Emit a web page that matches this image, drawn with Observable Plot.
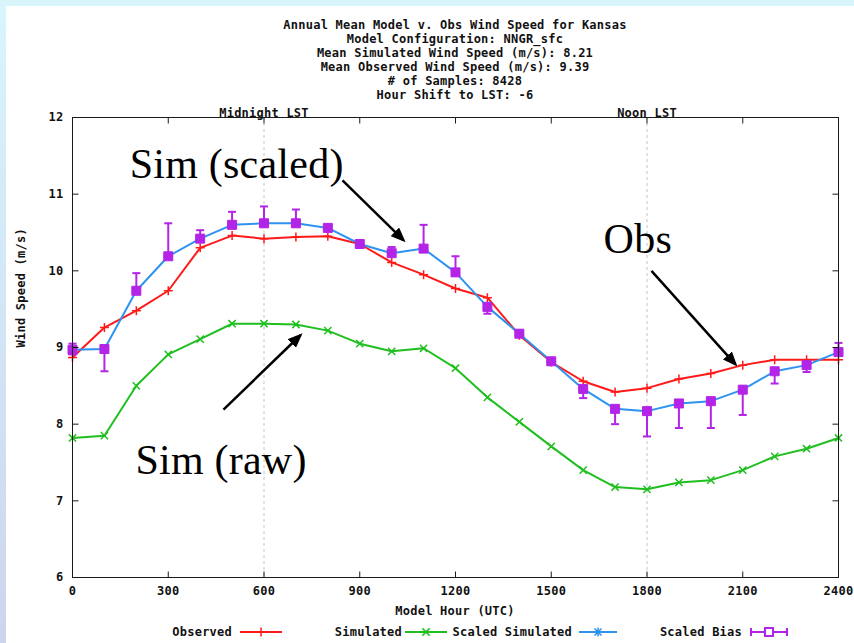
<!DOCTYPE html>
<html>
<head>
<meta charset="utf-8">
<script src="https://cdn.jsdelivr.net/npm/d3@7"></script>
<script src="https://cdn.jsdelivr.net/npm/@observablehq/plot@0.6"></script>
<style>
  html, body { margin: 0; padding: 0; }
  body { width: 854px; height: 643px; position: relative; overflow: hidden;
         background: linear-gradient(#d8f5fc, #cdd5ee); }
  #panel { position: absolute; left: 6px; top: 6px; right: 0; bottom: 0; background: #fff; }
  .gp { position: absolute; white-space: pre; color: #111;
        font-family: "DejaVu Sans Mono", monospace; font-weight: bold; font-size: 12px;
        letter-spacing: .24px; line-height: 14px; }
  #title { left: 0; width: 910px; top: 18px; text-align: center; line-height: 14.1px; }
  #chart { position: absolute; left: 0; top: 103px; }
  #xlabel { left: 0; width: 910px; top: 604px; text-align: center; }
  .lg { top: 625px; text-align: right; }
  .sw { position: absolute; top: 625px; }
</style>
</head>
<body>
<div id="panel"></div>
<div id="title" class="gp"></div>
<div id="chart"></div>
<div id="xlabel" class="gp">Model Hour (UTC)</div>
<div id="legend"></div>
<script>
// Model hour (UTC) of each sample
const hours = [0, 100, 200, 300, 400, 500, 600, 700, 800, 900, 1000, 1100, 1200,
               1300, 1400, 1500, 1600, 1700, 1800, 1900, 2000, 2100, 2200, 2300, 2400];

// Wind speed (m/s) series
const observed  = [8.87, 9.26, 9.48, 9.74, 10.30, 10.46, 10.42, 10.44, 10.45, 10.35, 10.11, 9.95, 9.77,
                   9.65, 9.16, 8.81, 8.56, 8.42, 8.47, 8.59, 8.66, 8.77, 8.84, 8.84, 8.84];
const simulated = [7.82, 7.85, 8.50, 8.91, 9.11, 9.31, 9.31, 9.30, 9.22, 9.05, 8.95, 8.99, 8.73,
                   8.35, 8.03, 7.71, 7.40, 7.18, 7.15, 7.24, 7.27, 7.40, 7.58, 7.68, 7.82];
const scaledSim = [8.97, 8.98, 9.74, 10.19, 10.42, 10.60, 10.62, 10.62, 10.56, 10.35, 10.23, 10.29, 9.98,
                   9.53, 9.18, 8.82, 8.46, 8.20, 8.17, 8.27, 8.30, 8.45, 8.69, 8.77, 8.94];
// Scaled bias error bar extents
const biasLow   = [8.91, 8.69, 9.74, 10.19, 10.42, 10.60, 10.62, 10.62, 10.56, 10.35, 10.23, 10.29, 9.98,
                   9.44, 9.18, 8.82, 8.34, 8.00, 7.84, 7.95, 7.95, 8.12, 8.53, 8.68, 8.90];
const biasHigh  = [9.05, 8.98, 9.97, 10.62, 10.53, 10.77, 10.84, 10.80, 10.60, 10.37, 10.31, 10.60, 10.19,
                   9.53, 9.20, 8.84, 8.46, 8.20, 8.17, 8.27, 8.30, 8.45, 8.69, 8.77, 9.06];

// Axis ticks
const xTicks = [0, 300, 600, 900, 1200, 1500, 1800, 2100, 2400];
const yTicks = [6, 7, 8, 9, 10, 11, 12];

// Local solar time markers on the top axis
const lstMarks = [{hour: 600, label: "Midnight LST"}, {hour: 1800, label: "Noon LST"}];

const titleLines = [
  "Annual Mean Model v. Obs Wind Speed for Kansas",
  "Model Configuration: NNGR_sfc",
  "Mean Simulated Wind Speed (m/s): 8.21",
  "Mean Observed Wind Speed (m/s): 9.39",
  "# of Samples: 8428",
  "Hour Shift to LST: -6"
];

// Callout labels and arrows (hour, m/s)
const callouts = [
  {label: "Sim (scaled)", hour: 179, speed: 11.39},
  {label: "Obs", hour: 1664, speed: 10.41},
  {label: "Sim (raw)", hour: 197, speed: 7.53}
];
const calloutArrows = [
  {x1: 846, y1: 11.18, x2: 1037, y2: 10.40},
  {x1: 1814, y1: 10.00, x2: 2077, y2: 8.78},
  {x1: 473, y1: 8.19, x2: 714, y2: 9.16}
];

const RED = "#ff1a1a", GREEN = "#1fbf1f", BLUE = "#2e93f0", PURPLE = "#b324e6";

document.getElementById("title").textContent = titleLines.join("\n");

const rows = hours.map((h, i) => ({
  hour: h, obs: observed[i], sim: simulated[i], scaled: scaledSim[i], lo: biasLow[i], hi: biasHigh[i]
}));

// gnuplot-style point symbols and inward tick marks
const plusSym  = {draw(c) { c.moveTo(-4.5, 0); c.lineTo(4.5, 0); c.moveTo(0, -4.5); c.lineTo(0, 4.5); }};
const timesSym = {draw(c) { const r = 3.6; c.moveTo(-r, -r); c.lineTo(r, r); c.moveTo(-r, r); c.lineTo(r, -r); }};
const starSym  = {draw(c) { const r = 3.5, s = 4.5;
  c.moveTo(-s, 0); c.lineTo(s, 0); c.moveTo(0, -s); c.lineTo(0, s);
  c.moveTo(-r, -r); c.lineTo(r, r); c.moveTo(-r, r); c.lineTo(r, -r); }};
const squareSym = {draw(c) { c.rect(-4.5, -4.5, 9, 9); }};
const capSym   = {draw(c) { c.moveTo(-4, 0); c.lineTo(4, 0); }};
const tickUp    = {draw(c) { c.moveTo(0, 0); c.lineTo(0, -6); }};
const tickDown  = {draw(c) { c.moveTo(0, 0); c.lineTo(0, 6); }};
const tickRight = {draw(c) { c.moveTo(0, 0); c.lineTo(6, 0); }};
const tickLeft  = {draw(c) { c.moveTo(0, 0); c.lineTo(-6, 0); }};

const innerX = xTicks.slice(1, -1);
const innerY = yTicks.slice(1, -1);

const chart = Plot.plot({
  width: 854,
  height: 517,
  marginLeft: 72,
  marginRight: 16,
  marginTop: 14,
  marginBottom: 43,
  style: {fontFamily: "'DejaVu Sans Mono', monospace", fontWeight: "bold", fontSize: "12px",
          letterSpacing: "0.24px", color: "#111", background: "transparent", overflow: "visible"},
  x: {domain: [0, 2400], axis: null},
  y: {domain: [6, 12], axis: null},
  marks: [
    Plot.ruleX(lstMarks, {x: "hour", stroke: "#c4c4c4", strokeWidth: 1, strokeDasharray: "3,3"}),

    Plot.line(rows, {x: "hour", y: "obs", stroke: RED, strokeWidth: 2}),
    Plot.dot(rows, {x: "hour", y: "obs", symbol: plusSym, stroke: RED, fill: "none", strokeWidth: 1.5}),

    Plot.line(rows, {x: "hour", y: "sim", stroke: GREEN, strokeWidth: 2}),
    Plot.dot(rows, {x: "hour", y: "sim", symbol: timesSym, stroke: GREEN, fill: "none", strokeWidth: 1.5}),

    Plot.line(rows, {x: "hour", y: "scaled", stroke: BLUE, strokeWidth: 2}),
    Plot.dot(rows, {x: "hour", y: "scaled", symbol: starSym, stroke: BLUE, fill: "none", strokeWidth: 1.5}),

    Plot.ruleX(rows, {x: "hour", y1: "lo", y2: "hi", stroke: PURPLE, strokeWidth: 2}),
    Plot.dot(rows, {x: "hour", y: "lo", symbol: capSym, stroke: PURPLE, fill: "none", strokeWidth: 2}),
    Plot.dot(rows, {x: "hour", y: "hi", symbol: capSym, stroke: PURPLE, fill: "none", strokeWidth: 2}),
    Plot.dot(rows, {x: "hour", y: "scaled", symbol: squareSym, fill: PURPLE, stroke: PURPLE, strokeWidth: 1}),

    Plot.frame({stroke: "#1a1a1a", strokeWidth: 1}),
    Plot.dot(innerX, {x: d => d, frameAnchor: "bottom", symbol: tickUp, stroke: "#1a1a1a", strokeWidth: 1}),
    Plot.dot(innerX, {x: d => d, frameAnchor: "top", symbol: tickDown, stroke: "#1a1a1a", strokeWidth: 1}),
    Plot.dot(innerY, {y: d => d, frameAnchor: "left", symbol: tickRight, stroke: "#1a1a1a", strokeWidth: 1}),
    Plot.dot(innerY, {y: d => d, frameAnchor: "right", symbol: tickLeft, stroke: "#1a1a1a", strokeWidth: 1}),

    Plot.text(xTicks, {x: d => d, text: d => String(d), frameAnchor: "bottom", dy: 17, fill: "#111"}),
    Plot.text(yTicks, {y: d => d, text: d => String(d), frameAnchor: "left", dx: -9, textAnchor: "end", fill: "#111"}),
    Plot.text(lstMarks, {x: "hour", text: "label", frameAnchor: "top", dy: -9, fill: "#111"}),
    Plot.text(["Wind Speed (m/s)"], {frameAnchor: "left", dx: -51, rotate: -90, fill: "#111"}),

    Plot.link(calloutArrows, {x1: "x1", y1: "y1", x2: "x2", y2: "y2", stroke: "#000", strokeWidth: 2.5}),
    Plot.text(callouts, {x: "hour", y: "speed", text: "label", textAnchor: "start",
      fontFamily: "'Liberation Serif', 'Times New Roman', serif", fontWeight: "normal",
      fontSize: 42, fill: "#000"})
  ]
});

// filled arrowheads on the callout arrows
const sel = d3.select(chart);
sel.append("defs").html(
  '<marker id="callout-head" viewBox="0 0 15 12" refX="12" refY="6" markerWidth="15" markerHeight="12" ' +
  'markerUnits="userSpaceOnUse" orient="auto"><path d="M0,0L15,6L0,12z" fill="#000"/></marker>');
sel.selectAll('g[aria-label="link"] path').attr("marker-end", "url(#callout-head)");

document.getElementById("chart").appendChild(chart);

// legend row
const legendItems = [
  {label: "Observed",         right: 232, left: 240, width: 42, color: RED,    kind: "plus"},
  {label: "Simulated",        right: 402, left: 405, width: 42, color: GREEN,  kind: "times"},
  {label: "Scaled Simulated", right: 572, left: 579, width: 38, color: BLUE,   kind: "star"},
  {label: "Scaled Bias",      right: 742, left: 750, width: 38, color: PURPLE, kind: "bias"}
];
const legend = document.getElementById("legend");
for (const it of legendItems) {
  const t = document.createElement("div");
  t.className = "gp lg";
  t.style.left = (it.right - 200) + "px";
  t.style.width = "200px";
  t.textContent = it.label;
  legend.appendChild(t);

  const w = it.width, m = w / 2, y = 7;
  let marker = "";
  if (it.kind === "plus") marker = `<path d="M${m-4.5},${y}h9M${m},${y-4.5}v9" stroke="${it.color}" stroke-width="1.5"/>`;
  if (it.kind === "times") marker = `<path d="M${m-3.6},${y-3.6}l7.2,7.2M${m-3.6},${y+3.6}l7.2,-7.2" stroke="${it.color}" stroke-width="1.5"/>`;
  if (it.kind === "star") marker = `<path d="M${m-4.5},${y}h9M${m},${y-4.5}v9M${m-3.5},${y-3.5}l7,7M${m-3.5},${y+3.5}l7,-7" stroke="${it.color}" stroke-width="1.5"/>`;
  if (it.kind === "bias") marker = `<path d="M1,${y-4}v8M${w-1},${y-4}v8" stroke="${it.color}" stroke-width="2"/>` +
    `<rect x="${m-4}" y="${y-4}" width="8" height="8" fill="#fff" stroke="${it.color}" stroke-width="2"/>`;
  const s = document.createElement("div");
  s.className = "sw";
  s.style.left = it.left + "px";
  s.innerHTML = `<svg width="${w}" height="14"><path d="M0,${y}H${w}" stroke="${it.color}" stroke-width="2"/>${marker}</svg>`;
  legend.appendChild(s);
}
</script>
</body>
</html>
